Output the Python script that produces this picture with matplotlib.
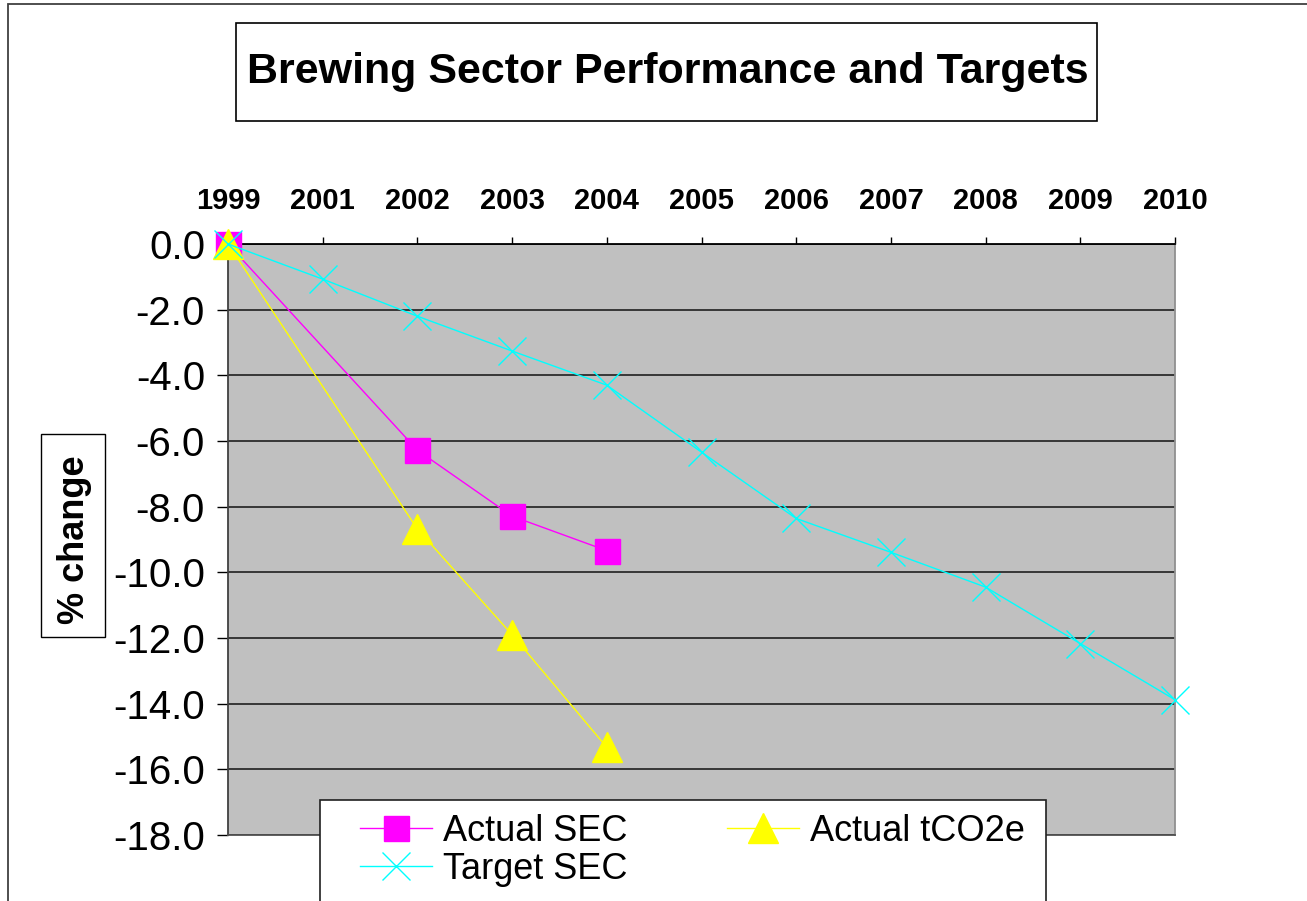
import numpy as np
import matplotlib
matplotlib.use('Agg')
import matplotlib.pyplot as plt
from matplotlib import font_manager
from matplotlib.patches import Rectangle

# categories along the top axis
years = ['1999', '2001', '2002', '2003', '2004', '2005',
         '2006', '2007', '2008', '2009', '2010']

# % change values
target_sec = [0.0, -1.07, -2.2, -3.26, -4.3, -6.34,
              -8.36, -9.39, -10.45, -12.17, -13.88]
actual_years = ['1999', '2002', '2003', '2004']
actual_sec = [0.0, -6.28, -8.29, -9.34]
actual_co2 = [0.0, -8.68, -11.9, -15.33]

W, H = 1307, 901
names = {f.name for f in font_manager.fontManager.ttflist}
if 'Liberation Sans Narrow' in names:
    narrow = 'Liberation Sans Narrow'
    title_size, xtick_size = 37.5, 24.5
else:
    narrow = 'Liberation Sans'
    title_size, xtick_size = 31, 21
plt.rcParams['font.family'] = ['Liberation Sans', 'DejaVu Sans']


def fx(px):
    return px / W


def fy(py):
    return 1 - py / H


fig = plt.figure(figsize=(W / 100, H / 100), dpi=100)
fig.patch.set_facecolor('white')

# outer chart border (cut off at right/bottom)
fig.add_artist(Rectangle((fx(8), fy(1100)), 1.2, fy(4) - fy(1100),
                         transform=fig.transFigure, fill=False,
                         edgecolor='#404040', lw=1.3))

ax = fig.add_axes([fx(228), fy(835), fx(1175) - fx(228), fy(244) - fy(835)])
ax.set_facecolor('#C0C0C0')

xi = {y: i for i, y in enumerate(years)}
ax_x = [xi[y] for y in actual_years]

ax.plot(ax_x, actual_sec, color='#FF00FF', lw=1, marker='s', ms=18,
        mec='#FF00FF', clip_on=False, zorder=3, label='Actual SEC')
ax.plot(ax_x, actual_co2, color='#FFFF00', lw=1, marker='^', ms=21,
        mec='#FFFF00', clip_on=False, zorder=4, label='Actual tCO2e')
ax.plot(range(len(years)), target_sec, color='#00FFFF', lw=1, marker='x',
        ms=20, mew=1, clip_on=False, zorder=5, label='Target SEC')

ax.set_xlim(0, len(years) - 1)
ax.set_ylim(-18, 0)
ax.set_yticks(np.arange(-18, 0.1, 2))
ax.set_yticklabels([f'{v:.1f}' for v in np.arange(-18, 0.1, 2)])
ax.set_xticks(range(len(years)))
ax.set_xticklabels(years)
ax.xaxis.tick_top()
ax.tick_params(axis='x', direction='out', length=5, width=1, pad=16,
               colors='black')
ax.tick_params(axis='y', direction='out', length=8, width=1, pad=8.5,
               labelsize=29, colors='black')
for lab in ax.get_xticklabels():
    lab.set_fontfamily(narrow)
    lab.set_fontweight('bold')
    lab.set_fontsize(xtick_size)

ax.grid(axis='y', color='#202020', lw=1.2)
ax.set_axisbelow(True)
ax.spines['top'].set_color('black')
ax.spines['left'].set_color('#404040')
ax.spines['right'].set_color('#909090')
ax.spines['bottom'].set_color('#505050')
for s in ax.spines.values():
    s.set_linewidth(1.3)

# title box
fig.add_artist(Rectangle((fx(236), fy(121)), fx(1097) - fx(236),
                         fy(23) - fy(121), transform=fig.transFigure,
                         fill=False, edgecolor='black', lw=1.2))
fig.text(fx(668), fy(72), 'Brewing Sector Performance and Targets',
         ha='center', va='center', fontsize=title_size, fontweight='bold',
         fontfamily=narrow)

# y label box
fig.add_artist(Rectangle((fx(41), fy(637)), fx(105) - fx(41),
                         fy(434) - fy(637), transform=fig.transFigure,
                         fill=False, edgecolor='black', lw=1))
fig.text(fx(74), fy(540), '% change', rotation=90, ha='center',
         va='center', fontsize=26, fontweight='bold')

# legend box (runs off the bottom of the picture)
fig.add_artist(Rectangle((fx(320), fy(1000)), fx(1046) - fx(320),
                         fy(800) - fy(1000), transform=fig.transFigure,
                         facecolor='white', edgecolor='#202020', lw=1.2,
                         zorder=10))
h, l = ax.get_legend_handles_labels()
order = [0, 2, 1]
leg = fig.legend([h[i] for i in order], [l[i] for i in order],
                 loc='upper left', bbox_to_anchor=(fx(360), fy(814)),
                 ncol=2, frameon=False, fontsize=26, borderpad=0,
                 borderaxespad=0, handlelength=2.0, handletextpad=0.3,
                 columnspacing=2.75, labelspacing=0.08)
leg.set_zorder(11)

fig.savefig('out.png', dpi=100)
